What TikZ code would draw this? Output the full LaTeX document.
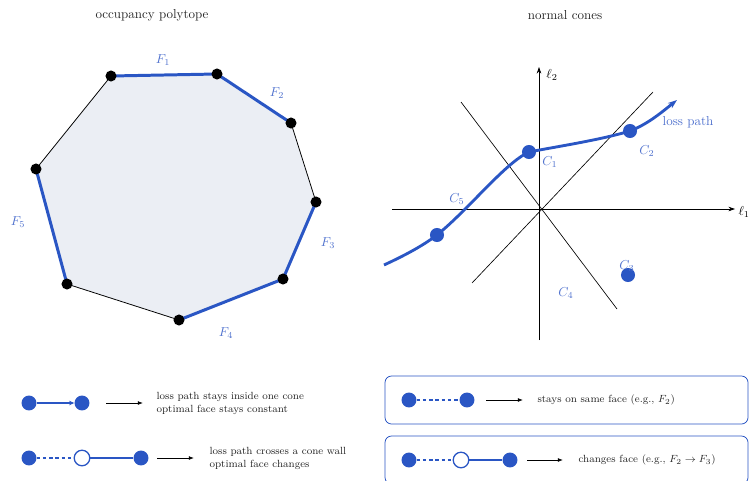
\documentclass[tikz,border=0pt]{standalone}
\usepackage{amsmath,amssymb}
\usetikzlibrary{arrows.meta, positioning}

\definecolor{pathblue}{RGB}{42,86,196}
\definecolor{lblblue}{RGB}{80,114,206}
\definecolor{polyfill}{RGB}{235,238,244}

\begin{document}
\begin{tikzpicture}[x=0.77pt, y=-0.77pt,
    vert/.style={circle, fill=black, inner sep=0pt, minimum size=8.5pt},
    bdot/.style={circle, fill=pathblue, inner sep=0pt, minimum size=10.8pt},
    kdot/.style={circle, fill=pathblue, inner sep=0pt, minimum size=11.5pt},
    odot/.style={circle, draw=pathblue, line width=1pt, fill=white,
                 inner sep=0pt, minimum size=12pt},
    face/.style={pathblue, line width=2.3pt},
    edge/.style={black, line width=0.6pt},
    wall/.style={black, line width=0.5pt},
    axis/.style={black, line width=0.6pt, -{Stealth[length=5pt,width=3.5pt]}},
    losspath/.style={pathblue, line width=2.2pt, -{Stealth[length=7pt,width=5pt]}},
    legline/.style={pathblue, line width=1.5pt},
    legdash/.style={pathblue, line width=1.5pt, dash pattern=on 2.6pt off 2.2pt},
    legarrow/.style={black, line width=0.6pt, -{Latex[length=4pt,width=3pt]}},
    legbox/.style={draw=pathblue, line width=0.6pt, rounded corners=5pt},
    lbl/.style={text=lblblue},
    title/.style={text=black!85},
    legtext/.style={text=black!85, align=left, anchor=west,
                    font=\fontsize{8}{10}\selectfont},
]

\useasboundingbox (0,0) rectangle (751,480);

% Titles
\node[title] (t1) at (152,15) {occupancy polytope};
\node[title] (t2) at (565,15) {normal cones};

% Polytope corners
\coordinate (p1) at (111,76);
\coordinate (p2) at (217,74);
\coordinate (p3) at (291,123);
\coordinate (p4) at (316,202);
\coordinate (p5) at (283,279);
\coordinate (p6) at (179,320);
\coordinate (p7) at (67,284);
\coordinate (p8) at (36,169);

\fill[polyfill] (p1) -- (p2) -- (p3) -- (p4) -- (p5) -- (p6) -- (p7) -- (p8) -- cycle;

% faces (blue) and plain edges
\draw[face] (p1) -- (p2);
\draw[face] (p2) -- (p3);
\draw[edge] (p3) -- (p4);
\draw[face] (p4) -- (p5);
\draw[face] (p5) -- (p6);
\draw[edge] (p6) -- (p7);
\draw[face] (p7) -- (p8);
\draw[edge] (p8) -- (p1);

\node[vert] (v1) at (p1) {};
\node[vert] (v2) at (p2) {};
\node[vert] (v3) at (p3) {};
\node[vert] (v4) at (p4) {};
\node[vert] (v5) at (p5) {};
\node[vert] (v6) at (p6) {};
\node[vert] (v7) at (p7) {};
\node[vert] (v8) at (p8) {};

\node[lbl] (f1) at (163,60)  {$F_1$};
\node[lbl] (f2) at (277,93)  {$F_2$};
\node[lbl] (f3) at (328,243) {$F_3$};
\node[lbl] (f4) at (226,333) {$F_4$};
\node[lbl] (f5) at (18,222)  {$F_5$};

% Normal cones: axes
\coordinate (xl) at (392,209);
\coordinate (xr) at (735,209);
\coordinate (yb) at (539,340);
\coordinate (yt) at (539,67);
\draw[axis] (xl) -- (xr);
\draw[axis] (yb) -- (yt);
\node[anchor=west, inner sep=1pt] (l1) at (737,212) {$\ell_1$};
\node (l2) at (552,75) {$\ell_2$};

% cone walls
\coordinate (wa1) at (461,102);
\coordinate (wa2) at (617,309);
\coordinate (wb1) at (653,92);
\coordinate (wb2) at (472,283);
\draw[wall] (wa1) -- (wa2);
\draw[wall] (wb1) -- (wb2);

% loss path
\coordinate (ps) at (384,265);
\coordinate (pe) at (677,100);
\node[bdot] (d5) at (437,235) {};
\node[bdot] (d1) at (529,152) {};
\node[bdot] (d2) at (630,131) {};
\node[bdot] (d3) at (628,275) {};
\draw[losspath] (ps) .. controls (410,253) and (425,244) .. (d5.center)
    .. controls (470,208) and (505,163) .. (d1.center)
    .. controls (560,146) and (600,140) .. (d2.center)
    .. controls (648,124) and (662,112) .. (pe);

\node[lbl] (lp) at (688,122) {loss path};
\node[lbl] (c1) at (550,162) {$C_1$};
\node[lbl] (c2) at (647,151) {$C_2$};
\node[lbl] (c3) at (627,266) {$C_3$};
\node[lbl] (c4) at (566,293) {$C_4$};
\node[lbl] (c5) at (457,199) {$C_5$};

% Legend (left)
\node[kdot] (ka) at (29,403) {};
\node[kdot] (kb) at (82,403) {};
\draw[legline, -{Stealth[length=4pt,width=3.5pt]}] (ka) -- (kb);
\coordinate (ka1) at (106,403);
\coordinate (ka2) at (143,403);
\draw[legarrow] (ka1) -- (ka2);
\node[legtext] (ta) at (152,403) {loss path stays inside one cone\\optimal face stays constant};

\node[kdot] (kc) at (29,458) {};
\node[odot] (kd) at (82,458) {};
\node[kdot] (ke) at (141,458) {};
\draw[legdash] (kc) -- (kd);
\draw[legline] (kd) -- (ke);
\coordinate (kb1) at (157,458);
\coordinate (kb2) at (194,458);
\draw[legarrow] (kb1) -- (kb2);
\node[legtext] (tb) at (205,458) {loss path crosses a cone wall\\optimal face changes};

% Legend (right, boxed)
\draw[legbox] (385,376) rectangle (748,424);
\node[kdot] (ra) at (409,400) {};
\node[kdot] (rb) at (467,400) {};
\draw[legdash] (ra) -- (rb);
\coordinate (ra1) at (486,400);
\coordinate (ra2) at (523,400);
\draw[legarrow] (ra1) -- (ra2);
\node[legtext] (tc) at (533,400) {stays on same face (e.g., $F_2$)};

\draw[legbox] (385,436) rectangle (748,484);
\node[kdot] (rc) at (409,460) {};
\node[odot] (rd) at (461,460) {};
\node[kdot] (re) at (510,460) {};
\draw[legdash] (rc) -- (rd);
\draw[legline] (rd) -- (re);
\coordinate (rb1) at (527,460);
\coordinate (rb2) at (563,460);
\draw[legarrow] (rb1) -- (rb2);
\node[legtext] (td) at (574,460) {changes face (e.g., $F_2 \to F_3$)};

\end{tikzpicture}
\end{document}
